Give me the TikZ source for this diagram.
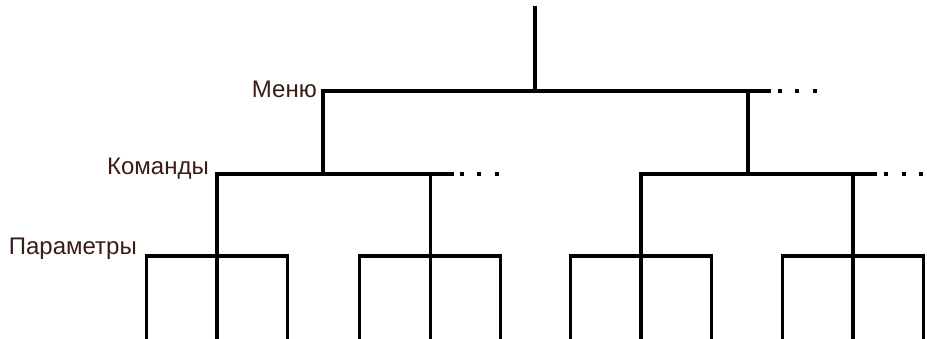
\documentclass[tikz,border=0pt]{standalone}
\usepackage{fontspec}
\setmainfont{Liberation Sans}
\definecolor{txtbrown}{RGB}{58,28,20}
\begin{document}
\begin{tikzpicture}[x=1pt,y=-1pt,
  tree/.style={line width=3.4pt, line join=miter, line cap=rect},
  thin tree/.style={line width=3pt, line join=miter, line cap=rect},
  lbl/.style={inner sep=0pt, text=txtbrown, font=\fontsize{24}{26}\selectfont},
  dotmark/.style={fill=black, minimum size=4.5pt, inner sep=0pt, draw=none, rectangle}]
\useasboundingbox (0,0) rectangle (927,339);
% coordinates
\coordinate (rtop) at (535,8);
\coordinate (r) at (535,91);
\coordinate (m1) at (323,91);
\coordinate (m2) at (748,91);
\coordinate (m2e) at (769,91);
\coordinate (c1) at (323,174);
\coordinate (c1l) at (217,174);
\coordinate (c1r) at (430,174);
\coordinate (c1e) at (452,174);
\coordinate (c2) at (748,174);
\coordinate (c2l) at (641,174);
\coordinate (c2r) at (853,174);
\coordinate (c2e) at (875,174);
% root and level 1
\draw[tree] (rtop) -- (r);
\draw[tree] (m1) -- (m2e);
\draw[tree] (m1) -- (c1);
\draw[tree] (m2) -- (c2);
% level 2
\draw[tree] (c1l) -- (c1e);
\draw[tree] (c2l) -- (c2e);
% level 3 groups
\foreach \c/\n in {217/a,430/b,641/c,853/d}{
  \coordinate (g\n) at (\c,256);
  \coordinate (g\n l) at (\c-70.5,256);
  \coordinate (g\n r) at (\c+70.5,256);
  \draw[tree] (\c-70.5,339) -- (g\n l) -- (g\n r) -- (\c+70.5,339);
}
\draw[tree] (c1l) -- (217,339);
\draw[thin tree] (c1r) -- (430,339);
\draw[tree] (c2l) -- (641,339);
\draw[tree] (c2r) -- (853,339);
% dots
\foreach \x/\y/\n in {780/91/p1,797/91/p2,815/91/p3,462/174/q1,479/174/q2,497/174/q3,886/174/s1,904/174/s2,921/174/s3}{
  \node[dotmark] (\n) at (\x,\y) {};
}
% labels
\node[lbl, anchor=base east] (menu) at (317,98) {Меню};
\node[lbl, anchor=base east] (cmd) at (209,175) {Команды};
\node[lbl, anchor=base east] (par) at (137,255) {Параметры};
\end{tikzpicture}
\end{document}
